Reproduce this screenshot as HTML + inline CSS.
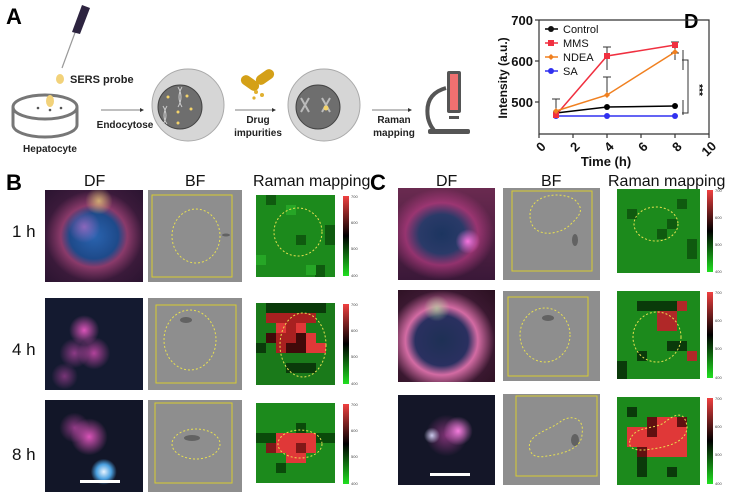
<!DOCTYPE html>
<html><head><meta charset="utf-8"><style>
body{margin:0;width:734px;height:495px;background:#fff;position:relative;overflow:hidden;font-family:"Liberation Sans",sans-serif}
.a{position:absolute}
.lbl{font-weight:bold;font-size:22px}
.df{position:absolute;background:#15172e}
.t{position:absolute;font-size:15px;color:#111}
.hd{position:absolute;font-size:16px;color:#111;white-space:nowrap}
</style></head><body>
<svg class="a" style="left:0;top:0" width="734" height="495">
<!-- Panel A -->
<text x="6" y="24" font-size="22" font-weight="bold" font-family="Liberation Sans">A</text>
<line x1="62" y1="68" x2="76" y2="30" stroke="#999" stroke-width="1.2"/>
<polygon points="72,32 80,34 90,8 82,5" fill="#2d2440"/>
<ellipse cx="60" cy="79" rx="4" ry="5" fill="#f2d27a"/>
<text x="70" y="83" font-size="11" font-weight="bold" fill="#222" font-family="Liberation Sans">SERS probe</text>
<ellipse cx="45" cy="107" rx="32" ry="12" fill="none" stroke="#777" stroke-width="3"/>
<path d="M13 107 v18 a32 12 0 0 0 64 0 v-18" fill="none" stroke="#777" stroke-width="3"/>
<ellipse cx="50" cy="101" rx="4" ry="6" fill="#f2d27a"/>
<circle cx="38" cy="108" r="1.3" fill="#555"/><circle cx="50" cy="110" r="1.3" fill="#555"/><circle cx="61" cy="108" r="1.3" fill="#555"/>
<text x="50" y="152" font-size="10" font-weight="bold" text-anchor="middle" fill="#222" font-family="Liberation Sans">Hepatocyte</text>
<line x1="101" y1="110" x2="140" y2="110" stroke="#555" stroke-width="0.8"/><polygon points="140,108 144,110 140,112" fill="#333"/>
<text x="125" y="128" font-size="10" font-weight="bold" text-anchor="middle" fill="#222" font-family="Liberation Sans">Endocytose</text>
<circle cx="188" cy="105" r="36" fill="#d6d6d6" stroke="#aaa"/>
<circle cx="180" cy="107" r="22" fill="#6e6e6e" stroke="#444"/>
<g fill="#f3d36b"><circle cx="168" cy="97" r="1.5"/><circle cx="187" cy="96" r="1.5"/><circle cx="178" cy="112" r="1.5"/><circle cx="191" cy="109" r="1.5"/><circle cx="178" cy="123" r="1.5"/></g>
<path d="M178 87 q6 10 0 20 M182 87 q-6 10 0 20" stroke="#ccc" fill="none"/>
<path d="M163 106 q6 10 0 18 M167 106 q-6 10 0 18" stroke="#ccc" fill="none"/>
<line x1="235" y1="110" x2="272" y2="110" stroke="#555" stroke-width="0.8"/><polygon points="272,108 276,110 272,112" fill="#333"/>
<rect x="240" y="78" width="20" height="10" rx="5" fill="#d4a017" transform="rotate(35 250 83)"/>
<rect x="255" y="72" width="20" height="10" rx="5" fill="#d4a017" transform="rotate(-35 265 77)"/>
<g fill="#e0b030"><circle cx="256" cy="92" r="2"/><circle cx="262" cy="95" r="2"/><circle cx="254" cy="98" r="1.6"/></g>
<text x="258" y="123" font-size="10" font-weight="bold" text-anchor="middle" fill="#222" font-family="Liberation Sans">Drug</text>
<text x="258" y="136" font-size="10" font-weight="bold" text-anchor="middle" fill="#222" font-family="Liberation Sans">impurities</text>
<circle cx="324" cy="105" r="36" fill="#d6d6d6" stroke="#aaa"/>
<circle cx="318" cy="107" r="22" fill="#6e6e6e" stroke="#444"/>
<path d="M301 98 l8 14 M309 98 l-8 14 M322 98 l8 14 M330 98 l-8 14" stroke="#bbb" stroke-width="2"/>
<circle cx="326" cy="108" r="2.5" fill="#f3d36b"/>
<line x1="372" y1="110" x2="408" y2="110" stroke="#555" stroke-width="0.8"/><polygon points="408,108 412,110 408,112" fill="#333"/>
<text x="394" y="123" font-size="10" font-weight="bold" text-anchor="middle" fill="#222" font-family="Liberation Sans">Raman</text>
<text x="394" y="136" font-size="10" font-weight="bold" text-anchor="middle" fill="#222" font-family="Liberation Sans">mapping</text>
<rect x="447" y="71" width="14" height="42" rx="2" fill="#555"/>
<rect x="450" y="74" width="8" height="36" fill="#f07070"/>
<rect x="449" y="116" width="10" height="3" fill="#555"/>
<path d="M446 88 q-22 6 -18 30 q2 8 6 12" stroke="#555" stroke-width="4" fill="none"/>
<rect x="428" y="129" width="42" height="5" rx="2" fill="#555"/>

<!-- Panel D -->
<text x="684" y="28" font-size="20" font-weight="bold" font-family="Liberation Sans">D</text>
<g font-family="Liberation Sans" font-weight="bold" font-size="13" fill="#111">
<text x="533" y="25" text-anchor="end">700</text>
<text x="533" y="66" text-anchor="end">600</text>
<text x="533" y="107" text-anchor="end">500</text>
<text transform="translate(507,78) rotate(-90)" text-anchor="middle" font-size="12">Intensity (a.u.)</text>
<text x="606" y="166" text-anchor="middle" font-size="13">Time (h)</text>
<text transform="translate(544,150) rotate(-45)" text-anchor="middle">0</text>
<text transform="translate(578,150) rotate(-45)" text-anchor="middle">2</text>
<text transform="translate(612,150) rotate(-45)" text-anchor="middle">4</text>
<text transform="translate(646,150) rotate(-45)" text-anchor="middle">6</text>
<text transform="translate(680,150) rotate(-45)" text-anchor="middle">8</text>
<text transform="translate(712,152) rotate(-45)" text-anchor="middle">10</text>
</g>
<polyline points="539,20 539,134 709,134 709,20 539,20" fill="none" stroke="#333" stroke-width="1.2"/>
<g stroke="#333" stroke-width="1.2"><line x1="535" y1="20" x2="539" y2="20"/><line x1="535" y1="61" x2="539" y2="61"/><line x1="535" y1="102" x2="539" y2="102"/>
<line x1="539" y1="134" x2="539" y2="138"/><line x1="573" y1="134" x2="573" y2="138"/><line x1="607" y1="134" x2="607" y2="138"/><line x1="641" y1="134" x2="641" y2="138"/><line x1="675" y1="134" x2="675" y2="138"/><line x1="709" y1="134" x2="709" y2="138"/></g>
<g stroke="#333" stroke-width="1">
<line x1="603" y1="47" x2="611" y2="47"/><line x1="607" y1="47" x2="607" y2="70"/>
<line x1="675" y1="42" x2="675" y2="60"/><line x1="671" y1="42" x2="679" y2="42"/>
<line x1="556" y1="99" x2="556" y2="110"/><line x1="552" y1="99" x2="560" y2="99"/>
<line x1="603" y1="77" x2="611" y2="77"/><line x1="607" y1="77" x2="607" y2="95"/><line x1="671" y1="53" x2="679" y2="53"/>
</g>
<polyline points="556,113 607,107 675,106" fill="none" stroke="#000" stroke-width="1.5"/>
<polyline points="556,115 607,56 675,45" fill="none" stroke="#f03040" stroke-width="1.5"/>
<polyline points="556,111 607,95 675,52" fill="none" stroke="#f08020" stroke-width="1.5"/>
<polyline points="556,116 607,116 675,116" fill="none" stroke="#3030f0" stroke-width="1.5"/>
<g fill="#000"><circle cx="556" cy="113" r="3"/><circle cx="607" cy="107" r="3"/><circle cx="675" cy="106" r="3"/></g>
<g fill="#3030f0"><circle cx="556" cy="116" r="3"/><circle cx="607" cy="116" r="3"/><circle cx="675" cy="116" r="3"/></g>
<g fill="#f03040"><rect x="553" y="112" width="6" height="6"/><rect x="604" y="53" width="6" height="6"/><rect x="672" y="42" width="6" height="6"/></g>
<g fill="#f08020"><polygon points="556,108 559,111 556,114 553,111"/><polygon points="607,92 610,95 607,98 604,95"/><polygon points="675,49 678,52 675,55 672,52"/></g>
<g font-family="Liberation Sans" font-size="11" fill="#111">
<line x1="545" y1="29" x2="558" y2="29" stroke="#000" stroke-width="1.5"/><circle cx="551" cy="29" r="3"/><text x="563" y="33">Control</text>
<line x1="545" y1="43" x2="558" y2="43" stroke="#f03040" stroke-width="1.5"/><rect x="548" y="40" width="6" height="6" fill="#f03040"/><text x="563" y="47">MMS</text>
<line x1="545" y1="57" x2="558" y2="57" stroke="#f08020" stroke-width="1.5"/><polygon points="551,54 554,57 551,60 548,57" fill="#f08020"/><text x="563" y="61">NDEA</text>
<line x1="545" y1="71" x2="558" y2="71" stroke="#3030f0" stroke-width="1.5"/><circle cx="551" cy="71" r="3" fill="#3030f0"/><text x="563" y="75">SA</text>
</g>
<g stroke="#333" stroke-width="1" fill="none"><polyline points="682,60 688,60 688,113 682,113"/><line x1="683" y1="50" x2="683" y2="70"/><line x1="683" y1="100" x2="683" y2="115"/></g>
<text transform="translate(696,90) rotate(90)" text-anchor="middle" font-size="10" font-weight="bold" font-family="Liberation Sans">***</text>
</svg>

<div class="lbl a" style="left:6px;top:170px">B</div>
<div class="lbl a" style="left:370px;top:170px">C</div>
<div class="hd" style="left:84px;top:173px">DF</div>
<div class="hd" style="left:185px;top:173px">BF</div>
<div class="hd" style="left:253px;top:173px">Raman mapping</div>
<div class="hd" style="left:436px;top:173px">DF</div>
<div class="hd" style="left:541px;top:173px">BF</div>
<div class="hd" style="left:608px;top:173px">Raman mapping</div>
<div class="t" style="left:12px;top:222px;font-size:17px">1 h</div>
<div class="t" style="left:12px;top:340px;font-size:17px">4 h</div>
<div class="t" style="left:12px;top:445px;font-size:17px">8 h</div>

<div class="df" style="left:45px;top:190px;width:98px;height:92px;background:radial-gradient(circle at 55% 12%,rgba(230,200,120,.8) 0,transparent 14%),radial-gradient(circle at 40% 40%,rgba(240,120,220,.5) 0,transparent 20%),radial-gradient(ellipse at 50% 50%,#2a64b0 0,#1e4a8a 35%,#8a3a6a 48%,#3a1a3a 70%,#2a1430 100%)"></div>
<div class="df" style="left:45px;top:298px;width:98px;height:92px;background:radial-gradient(circle at 40% 35%,rgba(240,90,200,.9) 0,transparent 18%),radial-gradient(circle at 50% 60%,rgba(230,80,190,.75) 0,transparent 22%),radial-gradient(circle at 30% 60%,rgba(220,80,190,.6) 0,transparent 17%),radial-gradient(circle at 20% 85%,rgba(220,80,190,.5) 0,transparent 12%),#141a30"></div>
<div class="df" style="left:45px;top:400px;width:98px;height:92px;background:radial-gradient(circle at 60% 78%,#e8f4ff 0,#4aa0e0 8%,transparent 14%),radial-gradient(circle at 45% 40%,rgba(240,90,200,.9) 0,transparent 24%),radial-gradient(circle at 30% 30%,rgba(220,80,190,.6) 0,transparent 16%),#121628"><div class="a" style="left:35px;top:80px;width:40px;height:3px;background:#fff"></div></div>
<div class="df" style="left:398px;top:188px;width:97px;height:92px;background:radial-gradient(circle at 72% 58%,rgba(255,120,230,.95) 0,transparent 14%),radial-gradient(ellipse at 45% 50%,#1c3560 0,#2a3a68 30%,rgba(180,60,130,.7) 48%,transparent 70%),linear-gradient(#6a2a50,#3a1838)"></div>
<div class="df" style="left:398px;top:290px;width:97px;height:92px;background:radial-gradient(circle at 40% 20%,rgba(180,220,160,.7) 0,transparent 14%),radial-gradient(ellipse at 45% 55%,#1e3055 0,#2a3060 35%,rgba(200,70,140,.8) 48%,#3a1830 70%,#2a1020 100%)"></div>
<div class="df" style="left:398px;top:395px;width:97px;height:90px;background:radial-gradient(circle at 62% 40%,rgba(255,130,230,.95) 0,transparent 18%),radial-gradient(circle at 35% 45%,rgba(220,220,255,.9) 0,transparent 10%),radial-gradient(circle at 50% 45%,rgba(200,70,170,.6) 0,transparent 30%),#141628"><div class="a" style="left:32px;top:78px;width:40px;height:3px;background:#fff"></div></div>

<svg class="a" style="left:0;top:0" width="734" height="495">
<g fill="#8e8e8e"><rect x="148" y="190" width="94" height="92"/><rect x="148" y="298" width="94" height="92"/><rect x="148" y="400" width="94" height="92"/>
<rect x="503" y="188" width="97" height="92"/><rect x="503" y="291" width="97" height="90"/><rect x="503" y="394" width="97" height="91"/></g>
<g fill="none" stroke="#d8cc30" stroke-width="1"><rect x="152" y="195" width="80" height="82"/><rect x="156" y="305" width="80" height="78"/><rect x="155" y="403" width="77" height="80"/>
<rect x="512" y="191" width="80" height="80"/><rect x="508" y="297" width="80" height="79"/><rect x="516" y="396" width="81" height="80"/></g>
<g fill="none" stroke="#e8e050" stroke-width="1" stroke-dasharray="2,2">
<ellipse cx="196" cy="236" rx="24" ry="27"/><ellipse cx="190" cy="340" rx="26" ry="30"/><ellipse cx="196" cy="444" rx="24" ry="15"/>
<path d="M530 215 c0 -20 30 -25 45 -15 c10 10 5 15 -5 25 c-10 10 -40 15 -40 -10z"/>
<ellipse cx="545" cy="335" rx="25" ry="27"/>
<path d="M530 450 c-5 -15 20 -20 30 -28 c10 -8 25 -5 22 12 c0 15 -20 20 -35 22 c-10 2 -15 0 -17 -6z"/>
</g>
<g fill="#444" opacity=".6"><ellipse cx="226" cy="235" rx="4" ry="1.5"/><ellipse cx="575" cy="240" rx="3" ry="6"/><ellipse cx="186" cy="320" rx="6" ry="3"/><ellipse cx="192" cy="438" rx="8" ry="3"/><ellipse cx="548" cy="318" rx="6" ry="3"/><ellipse cx="575" cy="440" rx="4" ry="6"/></g>

<defs>
<linearGradient id="cb" x1="0" y1="0" x2="0" y2="1"><stop offset="0" stop-color="#f04040"/><stop offset=".5" stop-color="#000"/><stop offset="1" stop-color="#20e020"/></linearGradient>
</defs>
<g>
<rect x="256" y="195" width="79" height="82" fill="#1c8a1c"/>
<g fill="#0f5a0f"><rect x="266" y="195" width="10" height="10"/><rect x="325" y="225" width="10" height="20"/><rect x="296" y="235" width="10" height="10"/><rect x="315" y="265" width="10" height="12"/></g>
<g fill="#26a626"><rect x="256" y="255" width="10" height="10"/><rect x="286" y="205" width="10" height="10"/><rect x="306" y="265" width="10" height="10"/></g>
<rect x="256" y="303" width="79" height="82" fill="#1a7a1a"/>
<g fill="#0a3a0a"><rect x="266" y="303" width="60" height="10"/><rect x="256" y="343" width="10" height="10"/><rect x="286" y="363" width="30" height="10"/></g>
<g fill="#a82020"><rect x="266" y="313" width="50" height="10"/><rect x="286" y="323" width="10" height="20"/><rect x="276" y="333" width="10" height="20"/></g>
<g fill="#e03838"><rect x="296" y="323" width="10" height="10"/><rect x="306" y="333" width="10" height="20"/><rect x="276" y="323" width="10" height="10"/><rect x="316" y="343" width="10" height="10"/></g>
<g fill="#400a0a"><rect x="296" y="333" width="10" height="20"/><rect x="266" y="333" width="10" height="10"/><rect x="286" y="343" width="10" height="10"/></g>
<rect x="256" y="403" width="79" height="80" fill="#1c8a1c"/>
<g fill="#0a4a0a"><rect x="256" y="433" width="20" height="10"/><rect x="316" y="433" width="19" height="10"/><rect x="276" y="463" width="10" height="10"/><rect x="296" y="423" width="10" height="10"/></g>
<g fill="#e03838"><rect x="276" y="433" width="40" height="20"/><rect x="286" y="453" width="20" height="10"/></g>
<g fill="#801818"><rect x="296" y="443" width="10" height="10"/><rect x="266" y="443" width="10" height="10"/></g>

<rect x="617" y="189" width="83" height="84" fill="#1c8a1c"/>
<g fill="#0f5a0f"><rect x="627" y="209" width="10" height="10"/><rect x="677" y="199" width="10" height="10"/><rect x="667" y="219" width="10" height="10"/><rect x="657" y="229" width="10" height="10"/><rect x="687" y="239" width="10" height="20"/></g>
<rect x="617" y="291" width="83" height="88" fill="#1c8a1c"/>
<g fill="#0a3a0a"><rect x="637" y="301" width="40" height="10"/><rect x="617" y="361" width="10" height="18"/><rect x="667" y="341" width="20" height="10"/><rect x="637" y="351" width="10" height="10"/></g>
<g fill="#b02828"><rect x="657" y="311" width="20" height="20"/><rect x="687" y="351" width="10" height="10"/><rect x="677" y="301" width="10" height="10"/></g>
<rect x="617" y="397" width="83" height="88" fill="#1c8a1c"/>
<g fill="#0a3a0a"><rect x="627" y="407" width="10" height="10"/><rect x="637" y="457" width="10" height="20"/><rect x="667" y="467" width="10" height="10"/></g>
<g fill="#e03838"><rect x="627" y="427" width="20" height="20"/><rect x="647" y="437" width="40" height="20"/><rect x="657" y="417" width="20" height="20"/><rect x="677" y="427" width="10" height="10"/></g>
<g fill="#601010"><rect x="647" y="417" width="10" height="20"/><rect x="677" y="417" width="10" height="10"/><rect x="637" y="447" width="10" height="10"/></g>
</g>
<g fill="none" stroke="#e8e050" stroke-width="1" stroke-dasharray="2,2">
<ellipse cx="298" cy="232" rx="24" ry="24"/><ellipse cx="303" cy="345" rx="23" ry="32"/><ellipse cx="300" cy="444" rx="22" ry="14"/>
<ellipse cx="656" cy="224" rx="22" ry="17"/><ellipse cx="657" cy="337" rx="24" ry="25"/>
<path d="M630 440 c5 -15 25 -10 35 -18 c10 -8 20 -12 22 5 c0 15 -20 20 -35 22 c-12 2 -25 2 -22 -9z"/>
</g>
<g>
<rect x="343" y="196" width="6" height="80" fill="url(#cb)"/><rect x="343" y="304" width="6" height="80" fill="url(#cb)"/><rect x="343" y="404" width="6" height="80" fill="url(#cb)"/>
<rect x="707" y="190" width="6" height="82" fill="url(#cb)"/><rect x="707" y="292" width="6" height="86" fill="url(#cb)"/><rect x="707" y="398" width="6" height="86" fill="url(#cb)"/>
</g>
<g font-size="4" fill="#444" font-family="Liberation Sans">
<text x="351" y="198">700</text><text x="351" y="224">600</text><text x="351" y="250">500</text><text x="351" y="277">400</text>
<text x="351" y="306">700</text><text x="351" y="332">600</text><text x="351" y="358">500</text><text x="351" y="385">400</text>
<text x="351" y="406">700</text><text x="351" y="432">600</text><text x="351" y="458">500</text><text x="351" y="485">400</text>
<text x="715" y="192">700</text><text x="715" y="219">600</text><text x="715" y="246">500</text><text x="715" y="273">400</text>
<text x="715" y="294">700</text><text x="715" y="322">600</text><text x="715" y="350">500</text><text x="715" y="379">400</text>
<text x="715" y="400">700</text><text x="715" y="428">600</text><text x="715" y="456">500</text><text x="715" y="485">400</text>
</g>
</svg>
</body></html>
